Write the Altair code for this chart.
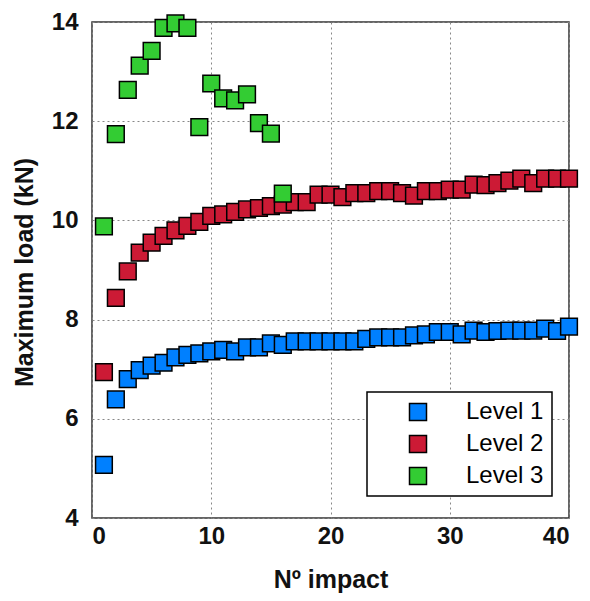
import altair as alt
import pandas as pd

level1 = [5.07, 6.39, 6.80, 6.98, 7.07, 7.13, 7.24, 7.29, 7.32, 7.36,
          7.39, 7.36, 7.44, 7.44, 7.52, 7.49, 7.56, 7.56, 7.56, 7.56,
          7.56, 7.56, 7.61, 7.64, 7.64, 7.64, 7.68, 7.70, 7.75, 7.75,
          7.70, 7.78, 7.75, 7.77, 7.78, 7.78, 7.78, 7.82, 7.77, 7.86]
level2 = [6.94, 8.44, 8.97, 9.35, 9.55, 9.69, 9.80, 9.89, 9.97, 10.09,
          10.12, 10.17, 10.22, 10.25, 10.29, 10.32, 10.37, 10.37, 10.52, 10.52,
          10.47, 10.55, 10.55, 10.59, 10.59, 10.55, 10.50, 10.59, 10.59, 10.62,
          10.62, 10.72, 10.71, 10.75, 10.80, 10.84, 10.75, 10.84, 10.84, 10.84]
level3 = [9.88, 11.74, 12.63, 13.12, 13.42, 13.88, 13.97, 13.88, 11.88, 12.76,
          12.46, 12.42, 12.54, 11.96, 11.75, 10.54]

series_names = ["Level 1", "Level 2", "Level 3"]
series_colors = ["#0080FF", "#CC1A35", "#33CC33"]
x_ticks = [0, 10, 20, 30, 40]
y_ticks = [4, 6, 8, 10, 12, 14]

rows = []
for name, vals in zip(series_names, [level1, level2, level3]):
    for i, v in enumerate(vals):
        rows.append({"impact": i + 1, "load": v, "level": name})
df = pd.DataFrame(rows)

FONT = "Liberation Sans"

chart = alt.Chart(df).mark_square(
    size=280, filled=True, opacity=1, stroke="black", strokeWidth=1.5
).encode(
    x=alt.X("impact:Q", scale=alt.Scale(domain=[0, 40], nice=False),
            axis=alt.Axis(values=x_ticks, title="Nº impact", format="d",
                          titleX=238.5, titleY=61, titleAlign="center",
                          titleBaseline="middle", labelPadding=6)),
    y=alt.Y("load:Q", scale=alt.Scale(domain=[4, 14], nice=False, zero=False),
            axis=alt.Axis(values=y_ticks, title="Maximum load (kN)", format="d",
                          titleX=-68, titleY=250, titleAngle=-90, titleAlign="center",
                          titleBaseline="middle", labelPadding=14)),
    color=alt.Color("level:N",
                    scale=alt.Scale(domain=series_names, range=series_colors),
                    legend=alt.Legend(title=None, orient="none", legendX=275, legendY=370,
                                      symbolType="square", symbolSize=289,
                                      symbolStrokeColor="black", symbolStrokeWidth=1.5,
                                      symbolOffset=31, labelOffset=36,
                                      labelFontSize=24, labelFont=FONT,
                                      labelColor="black",
                                      padding=8, rowPadding=8,
                                      strokeColor="black", fillColor="white")),
    order=alt.Order("levelorder:Q"),
).transform_calculate(
    levelorder="indexof(['Level 1','Level 2','Level 3'], datum.level) * 100 + datum.impact"
).properties(
    width=477, height=496,
    autosize=alt.AutoSizeParams(type="none"),
    padding={"left": 84, "top": 14, "right": 13, "bottom": 75},
).configure_view(
    stroke="#333333", strokeWidth=1.5
).configure_axis(
    labelFont=FONT, labelFontSize=24, labelFontWeight="bold", labelColor="#111111",
    titleFont=FONT, titleFontSize=25, titleFontWeight="bold", titleColor="#111111",
    grid=True, gridColor="#888888", gridDash=[2, 3], gridWidth=1,
    domain=False, ticks=False,
).configure_legend(
    strokeWidth=1.5
)

chart.save("out.html", embed_options={"renderer": "svg", "actions": False})
